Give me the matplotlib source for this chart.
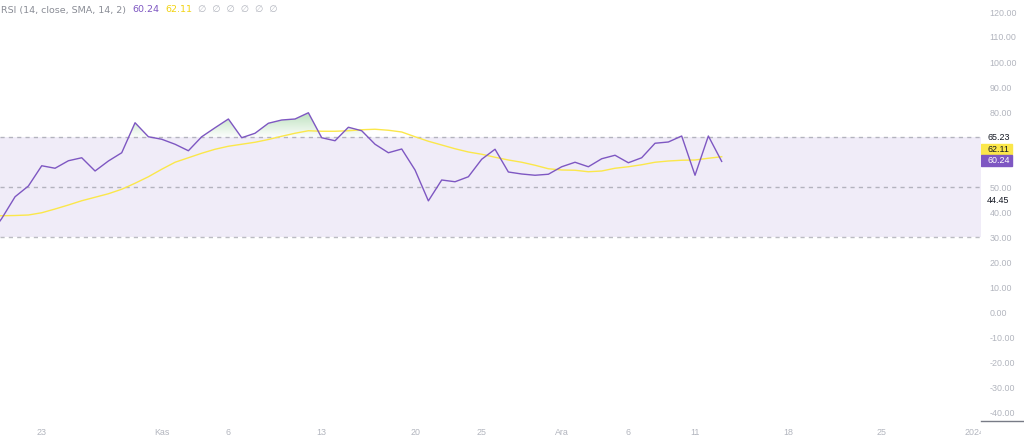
import numpy as np
import pandas as pd
import matplotlib
matplotlib.use('Agg')
import matplotlib.pyplot as plt
from matplotlib.transforms import Bbox, TransformedBbox, blended_transform_factory
from matplotlib.patches import Polygon

# daily RSI and its SMA, Oct 19 .. Dec 13 2023
start = '2023-10-19'
rsi = [30.0, 37.4, 46.1, 50.4, 58.5, 57.5, 60.5, 61.7, 56.4, 60.4, 63.7, 75.7,
       70.1, 69.1, 67.1, 64.5, 70.1, 73.7, 77.2, 69.7, 71.5, 75.5, 76.8, 77.2,
       79.7, 69.7, 68.5, 73.9, 72.5, 67.1, 63.7, 65.2, 56.8, 44.45, 52.8, 52.1,
       54.1, 61.1, 65.1, 56.0, 55.2, 54.7, 55.1, 58.1, 59.9, 58.1, 61.3, 62.7,
       59.7, 61.7, 67.5, 68.0, 70.4, 54.7, 70.4, 60.24]
sma = [38.5, 38.5, 38.6, 38.8, 39.7, 41.2, 42.8, 44.5, 45.9, 47.3, 49.1, 51.5,
       54.1, 57.1, 59.9, 61.7, 63.5, 65.1, 66.3, 67.1, 67.9, 69.0, 70.3, 71.5,
       72.5, 72.3, 72.3, 72.5, 72.9, 73.1, 72.7, 72.0, 70.1, 68.3, 66.8, 65.3,
       64.0, 63.1, 61.9, 60.8, 59.9, 58.7, 57.3, 56.8, 56.7, 56.1, 56.4, 57.5,
       58.1, 58.9, 59.9, 60.4, 60.7, 60.8, 61.5, 62.11]

tick_dates = ['2023-10-23', '2023-11-01', '2023-11-06', '2023-11-13', '2023-11-20',
              '2023-11-25', '2023-12-01', '2023-12-06', '2023-12-11', '2023-12-18',
              '2023-12-25', '2024-01-01']
tick_text = ['23', 'Kas', '6', '13', '20', '25', 'Ara', '6', '11', '18', '25', '2024']
y_ticks = [120, 110, 100, 90, 80, 50, 40, 30, 20, 10, 0, -10, -20, -30, -40]

upper, middle, lower = 70, 50, 30
last_rsi, last_sma, extra_hi, extra_lo = 60.24, 62.11, 65.23, 44.45

PURPLE = '#7e57c2'
YELLOW = '#fbe74a'
GREY = '#b2b5be'
AXFONT = 'Liberation Sans'
FS = 6.4

t0 = pd.Timestamp('2023-10-20')
days = (pd.date_range(start, periods=len(rsi), freq='D') - t0).days.values
ticks = (pd.to_datetime(tick_dates) - t0).days.values

fig = plt.figure(figsize=(10.24, 4.4), dpi=100)
ax = fig.add_axes([0, 19 / 440, 981 / 1024, 421 / 440])
ax.set_xlim(-0.13, 73.45)
ax.set_ylim(-43.6, 124.8)

# band
ax.axhspan(lower, upper, color=PURPLE, alpha=0.11, lw=0, zorder=0)
for lvl in (upper, middle, lower):
    ax.axhline(lvl, color='#787b86', alpha=0.5, lw=1, ls=(0, (3, 3)), zorder=1)

# green gradient above the upper band
rsi_arr = np.array(rsi)
verts = [(days[0], upper)]
for i in range(len(days) - 1):
    x0, x1 = days[i], days[i + 1]
    y0, y1 = rsi_arr[i], rsi_arr[i + 1]
    verts.append((x0, max(y0, upper)))
    if (y0 - upper) * (y1 - upper) < 0:
        xc = x0 + (upper - y0) / (y1 - y0) * (x1 - x0)
        verts.append((xc, upper))
verts.append((days[-1], max(rsi_arr[-1], upper)))
verts.append((days[-1], upper))
poly = Polygon(verts, closed=True, facecolor='none', edgecolor='none')
ax.add_patch(poly)
grad = np.linspace(0, 1, 100).reshape(-1, 1)
cmap = matplotlib.colors.LinearSegmentedColormap.from_list(
    'g', [(0.30, 0.69, 0.31, 0.02), (0.30, 0.69, 0.31, 0.38)])
im = ax.imshow(grad, cmap=cmap, origin='lower', aspect='auto',
               extent=[days[0], days[-1], upper, 80], zorder=2)
im.set_clip_path(poly)

ax.plot(days, sma, color=YELLOW, lw=1, zorder=3)
ax.plot(days, rsi, color=PURPLE, lw=1, zorder=4)

for s in ax.spines.values():
    s.set_visible(False)

ax.set_xticks(ticks)
ax.set_xticklabels(tick_text, family=AXFONT)
ax.set_yticks(y_ticks)
ax.set_yticklabels([f'{v:.2f}' for v in y_ticks], family=AXFONT)
ax.yaxis.tick_right()
ax.tick_params(axis='both', length=0, labelsize=FS, colors=GREY)
ax.tick_params(axis='y', pad=6)
ax.tick_params(axis='x', pad=5)

clip = TransformedBbox(Bbox([[0, 0], [1, 1]]),
                       blended_transform_factory(ax.transAxes, fig.transFigure))
for lbl in ax.get_xticklabels():
    lbl.set_clip_box(clip)
    lbl.set_clip_on(True)

# price scale separator
fig.add_artist(plt.Line2D([981 / 1024, 1], [19 / 440, 19 / 440], color='#787b86', lw=1))

# right-side value labels
lab_x = 987 / 1024
def ypos(v):
    return ax.transData.transform((0, v))[1] / fig.dpi / 4.4

fig.add_artist(plt.Rectangle((981 / 1024, 1 - 154.5 / 440), 31 / 1024, 10.5 / 440,
                             transform=fig.transFigure, color=YELLOW, zorder=0))
fig.add_artist(plt.Rectangle((981 / 1024, 1 - 166 / 440), 31 / 1024, 11 / 440,
                             transform=fig.transFigure, color=PURPLE, zorder=0))
lab = dict(fontsize=FS, family=AXFONT, va='center')
fig.text(lab_x, 1 - 137 / 440, f'{extra_hi:.2f}', color='#131722', **lab)
fig.text(lab_x, 1 - 149 / 440, f'{last_sma:.2f}', color='#131722', **lab)
fig.text(lab_x, 1 - 160.5 / 440, f'{last_rsi:.2f}', color='white', **lab)
fig.text(lab_x, ypos(extra_lo), f'{extra_lo:.2f}', color='#131722', **lab)

# header legend
hx, hy = 1 / 1024, 1 - 10 / 440
parts = [('RSI (14, close, SMA, 14, 2)', '#8a8d96'), (f'{last_rsi:.2f}', PURPLE),
         (f'{last_sma:.2f}', '#f2d30f'), ('\u2205  \u2205  \u2205  \u2205  \u2205  \u2205', GREY)]
fig.canvas.draw()
x = hx
for txt, col in parts:
    t = fig.text(x, hy, txt, fontsize=6.8, color=col, va='center')
    bb = t.get_window_extent(renderer=fig.canvas.get_renderer())
    x = (bb.x1 + 6) / 1024

fig.savefig('out.png', dpi=100, facecolor='white')
